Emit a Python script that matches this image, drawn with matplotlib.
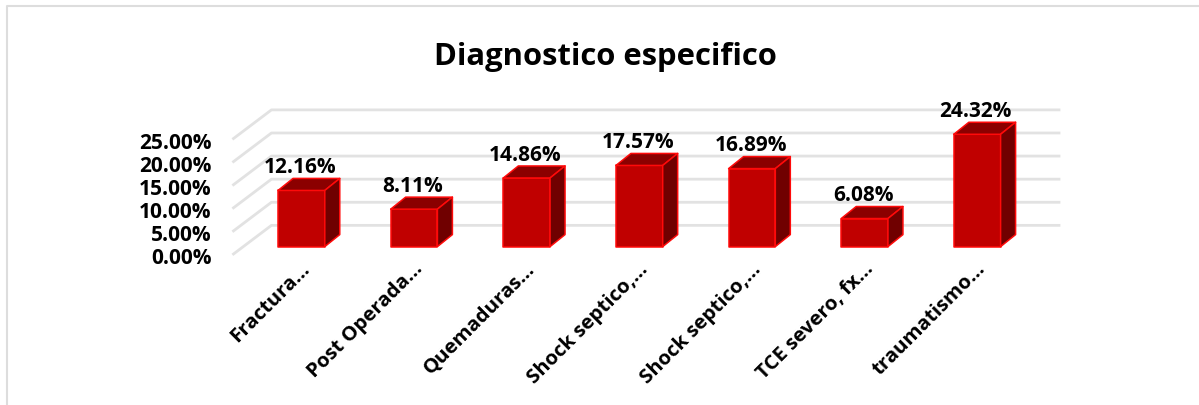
#!/usr/bin/env python3
"""Recreate the 'Diagnostico especifico' pseudo-3D column chart."""

import matplotlib
matplotlib.use("Agg")
import matplotlib.pyplot as plt
from matplotlib.lines import Line2D
from matplotlib.patches import Polygon
from matplotlib.transforms import ScaledTranslation

plt.rcParams['font.family'] = ['Open Sans', 'DejaVu Sans']

categories = ["Fractura...", "Post Operada...", "Quemaduras...", "Shock septico,...",
              "Shock septico,...", "TCE severo, fx...", "traumatismo..."]
values = [12.16, 8.11, 14.86, 17.57, 16.89, 6.08, 24.32]
y_ticks = [0, 5, 10, 15, 20, 25]

W, H = 1199, 406

# fake 3D offsets, in data units
BAR_W = 0.415
BAR_DX, BAR_DY = 0.133, 2.6
BASE = 1.6
WALL_DX, WALL_DY = 0.337, 6.2

FRONT = '#C00000'
TOP = '#8B0000'
SIDE = '#700000'
EDGE = '#FF0A0A'
GRID = '#E2E2E2'


def draw_bar(ax, i, val):
    """Draw one box: front, top and side faces."""
    x0, x1 = i - BAR_W / 2, i + BAR_W / 2
    y0, y1 = BASE, BASE + val
    faces = [
        ([(x0, y0), (x1, y0), (x1, y1), (x0, y1)], FRONT),
        ([(x0, y1), (x1, y1), (x1 + BAR_DX, y1 + BAR_DY), (x0 + BAR_DX, y1 + BAR_DY)], TOP),
        ([(x1, y0), (x1 + BAR_DX, y0 + BAR_DY), (x1 + BAR_DX, y1 + BAR_DY), (x1, y1)], SIDE),
    ]
    for pts, color in faces:
        ax.add_patch(Polygon(pts, closed=True, facecolor=color, edgecolor=EDGE,
                             linewidth=1.1, joinstyle='round', clip_on=False, zorder=3))
    ax.annotate(f'{val:.2f}%', (i, y1 + BAR_DY), textcoords='offset points', xytext=(-1, 1),
                ha='center', va='bottom', fontsize=15, fontweight='bold', color='black',
                annotation_clip=False, zorder=4)


fig = plt.figure(figsize=(W / 100, H / 100), dpi=100, facecolor='white')

# axes plane is the front edge of the floor
ax = fig.add_axes([233.5 / W, 1 - 255 / H, (1059 - 233.5) / W, 145.5 / H])
ax.set_xlim(-0.603, 6.726)
ax.set_ylim(0, 31.5)
ax.patch.set_alpha(0)
for spine in ax.spines.values():
    spine.set_visible(False)

# gridlines: diagonal side wall, then along the back wall
x_left, x_right = ax.get_xlim()
for t in y_ticks:
    ax.plot([x_left, x_left + WALL_DX, x_right], [t, t + WALL_DY, t + WALL_DY],
            color=GRID, linewidth=2, clip_on=False, zorder=1)

for i, val in enumerate(values):
    draw_bar(ax, i, val)

ax.set_yticks(y_ticks)
ax.set_yticklabels([f'{t:.2f}%' for t in y_ticks], fontsize=15, fontweight='bold')
ax.set_xticks(range(len(categories)))
ax.set_xticklabels(categories, fontsize=14.7, fontweight='bold', rotation=45, ha='right',
                   rotation_mode='anchor')
ax.tick_params(axis='y', length=0, pad=16)
ax.tick_params(axis='x', length=0, pad=3)

# nudge labels to where they sit in the reference
y_shift = ScaledTranslation(0, -1 / 72, fig.dpi_scale_trans)
for label in ax.get_yticklabels():
    label.set_transform(label.get_transform() + y_shift)
x_shift = ScaledTranslation(-1 / 72, 0, fig.dpi_scale_trans)
for label in ax.get_xticklabels():
    label.set_transform(label.get_transform() + x_shift)

fig.text(605 / W, 1 - 57 / H, 'Diagnostico especifico', fontsize=22.3, fontweight='bold',
         ha='center', va='center', color='black')

# chart frame: only left and top edges show in the crop
fig.add_artist(Line2D([6.5 / W, 6.5 / W, 1], [0, 1 - 6.5 / H, 1 - 6.5 / H],
                      color='#DDDDDD', linewidth=1.5))

fig.savefig('out.png', dpi=100)
